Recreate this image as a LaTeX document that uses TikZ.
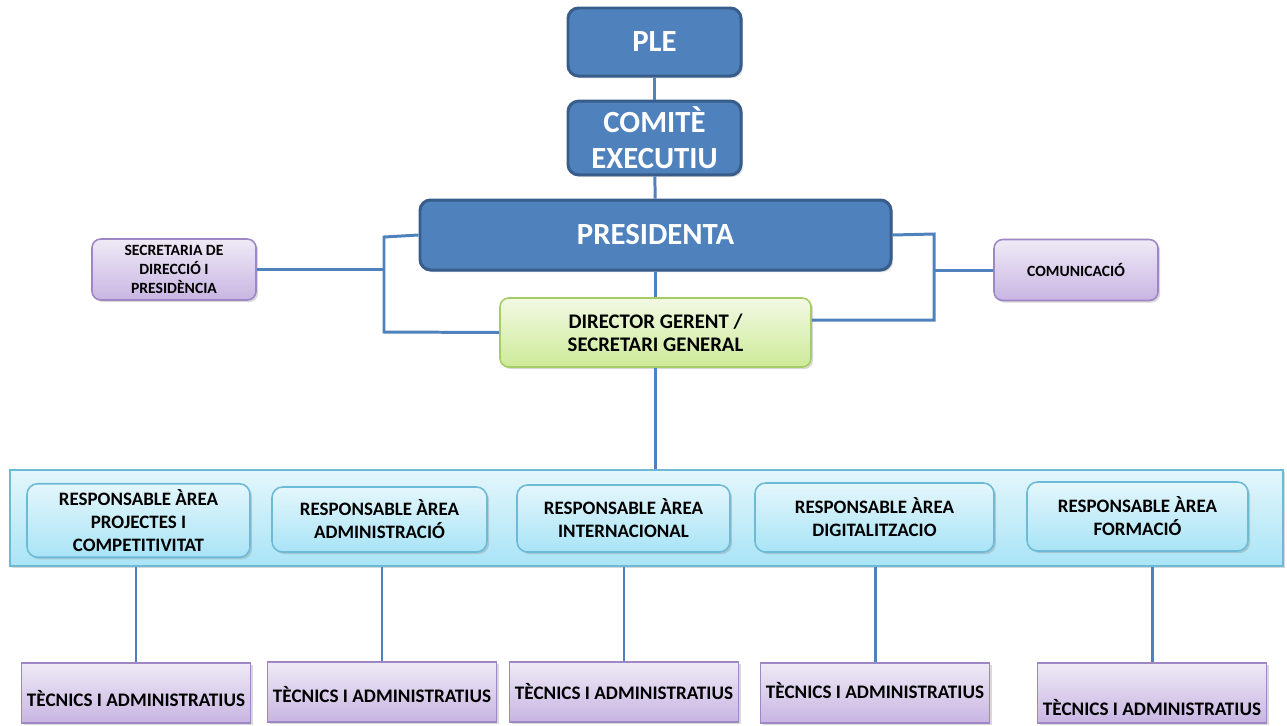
\documentclass[tikz,border=0pt]{standalone}
\usepackage{fontspec}
\setmainfont{Carlito}
\usetikzlibrary{positioning, shadows}

\definecolor{bossblue}{HTML}{4F81BD}
\definecolor{bossedge}{HTML}{385D8A}
\definecolor{lilatop}{HTML}{EFEAF6}
\definecolor{lilabot}{HTML}{C8B5E2}
\definecolor{lilaedge}{HTML}{9F86C4}
\definecolor{greentop}{HTML}{F2F9E4}
\definecolor{greenbot}{HTML}{CDEA98}
\definecolor{greenedge}{HTML}{A6CC66}
\definecolor{cyantop}{HTML}{E4F6FC}
\definecolor{cyanbot}{HTML}{A9E4F6}
\definecolor{cyanedge}{HTML}{6DBAD6}

\begin{document}
\begin{tikzpicture}[x=0.2mm, y=-0.2mm,
  shade/.style={drop shadow={opacity=0.3, shadow xshift=1.2pt, shadow yshift=-1.2pt}},
  link/.style={draw=bossblue, line width=1.7pt},
  boss/.style={draw=bossedge, line width=1.7pt, fill=bossblue, rounded corners=6pt,
    text=white, align=center, font=\bfseries\fontsize{17.5}{20.5}\selectfont, shade},
  lila/.style={draw=lilaedge, line width=0.9pt, top color=lilatop, bottom color=lilabot,
    rounded corners=5pt, align=center, font=\bfseries\fontsize{8.9}{10.8}\selectfont, shade},
  gerent/.style={draw=greenedge, line width=0.9pt, top color=greentop, bottom color=greenbot,
    rounded corners=5pt, align=center, font=\bfseries\fontsize{11.8}{13}\selectfont, shade},
  area/.style={draw=cyanedge, line width=0.9pt, top color=cyantop, bottom color=cyanbot,
    rounded corners=6pt, align=center, font=\bfseries\fontsize{10.8}{13}\selectfont, shade},
  tecnic/.style={draw=lilaedge, line width=0.9pt, top color=lilatop, bottom color=lilabot,
    inner sep=0pt, minimum width=4.58cm, anchor=north, font=\bfseries\fontsize{10.9}{13}\selectfont, shade}]
  \useasboundingbox (0,0) rectangle (1287,725);

  % top of the chart
  \node[boss, minimum width=3.46cm, minimum height=1.36cm] (ple) at (654.5,42) {PLE};
  \node[boss, minimum width=3.46cm, minimum height=1.36cm] (comite) at (654.5,138) {COMITÈ\\EXECUTIU};
  \node[boss, minimum width=9.42cm, minimum height=1.4cm] (pres) at (655.5,235) {PRESIDENTA};
  \node[lila, minimum width=3.28cm, minimum height=1.22cm] (secr) at (174,269.5) {SECRETARIA DE\\DIRECCIÓ I\\PRESIDÈNCIA};
  \node[lila, minimum width=3.28cm, minimum height=1.22cm] (comu) at (1076,270) {COMUNICACIÓ};
  \node[gerent, minimum width=6.22cm, minimum height=1.38cm] (dir) at (655.5,332.5) {DIRECTOR GERENT /\\SECRETARI GENERAL};

  % areas
  \node[area, rounded corners=0pt, minimum width=25.46cm, minimum height=1.92cm] (band) at (646.5,518) {};
  \node[area, minimum width=4.46cm, minimum height=1.3cm] (r1) at (138.5,520.5) {RESPONSABLE ÀREA\\PROJECTES I\\COMPETITIVITAT};
  \node[area, minimum width=4.3cm, minimum height=1.3cm] (r2) at (379.5,519.5) {RESPONSABLE ÀREA\\ADMINISTRACIÓ};
  \node[area, minimum width=4.26cm, minimum height=1.34cm] (r3) at (623.5,518.5) {RESPONSABLE ÀREA\\INTERNACIONAL};
  \node[area, minimum width=4.78cm, minimum height=1.38cm] (r4) at (874.5,517.5) {RESPONSABLE ÀREA\\DIGITALITZACIO};
  \node[area, minimum width=4.42cm, minimum height=1.38cm] (r5) at (1137.5,516.5) {RESPONSABLE ÀREA\\FORMACIÓ};

  % staff
  \node[tecnic, text height=0.87cm, text depth=0.33cm] (t1) at (136,662) {TÈCNICS I ADMINISTRATIUS};
  \node[tecnic, text height=0.81cm, text depth=0.39cm] (t2) at (382,661) {TÈCNICS I ADMINISTRATIUS};
  \node[tecnic, text height=0.75cm, text depth=0.45cm] (t3) at (624,661) {TÈCNICS I ADMINISTRATIUS};
  \node[tecnic, text height=0.71cm, text depth=0.49cm] (t4) at (875,662) {TÈCNICS I ADMINISTRATIUS};
  \node[tecnic, text height=1.05cm, text depth=0.15cm] (t5) at (1152,662) {TÈCNICS I ADMINISTRATIUS};

  % connectors
  \coordinate (lt) at (384,237);
  \coordinate (lb) at (384,332);
  \coordinate (rt) at (934,234);
  \coordinate (rb) at (934,320);
  \draw[link] (ple) -- (comite);
  \draw[link] (comite) -- (pres);
  \draw[link] (pres) -- (dir);
  \draw[link] (dir) -- (dir |- band.north);
  \draw[link] (pres.west) -- (lt) -- (lb) -- (dir.west);
  \draw[link] (secr.east) -- (secr.east -| lt);
  \draw[link] (pres.east) -- (rt) -- (rb) -- (rb -| dir.east);
  \draw[link] (comu.west) -- (comu.west -| rt);
  \foreach \i in {1,...,5}
    \draw[link] (t\i.north) -- (t\i |- band.south);
\end{tikzpicture}
\end{document}
